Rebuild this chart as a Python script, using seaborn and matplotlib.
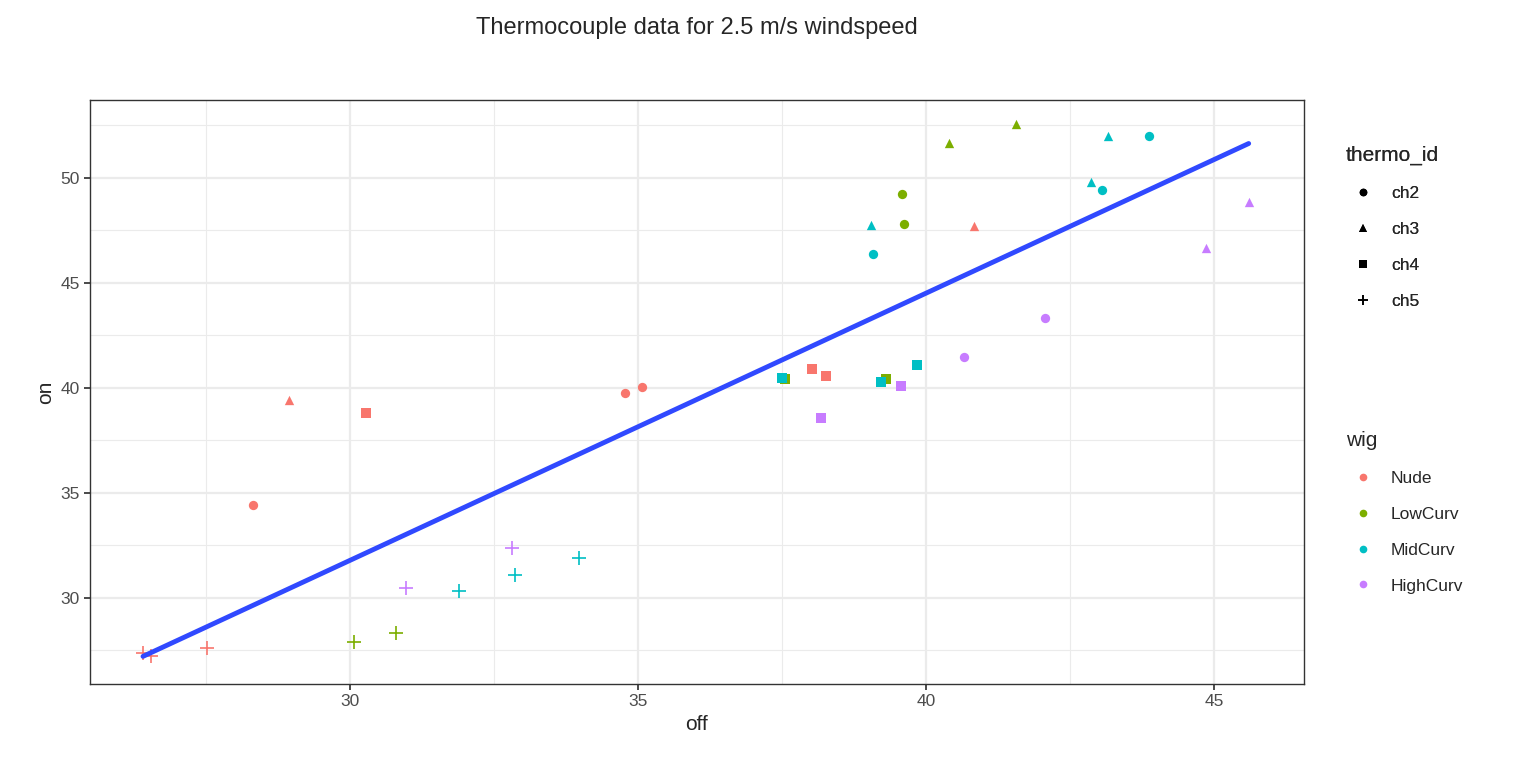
import matplotlib
matplotlib.use("Agg")
import matplotlib.pyplot as plt
from matplotlib.lines import Line2D
from matplotlib.ticker import MultipleLocator
import seaborn as sns
import pandas as pd

wig = (["Nude"]*11 + ["LowCurv"]*8 + ["MidCurv"]*12 + ["HighCurv"]*8)
thermo = (["ch2"]*3 + ["ch3"]*2 + ["ch4"]*3 + ["ch5"]*3 +
          ["ch2"]*2 + ["ch3"]*2 + ["ch4"]*2 + ["ch5"]*2 +
          ["ch2"]*3 + ["ch3"]*3 + ["ch4"]*3 + ["ch5"]*3 +
          ["ch2"]*2 + ["ch3"]*2 + ["ch4"]*2 + ["ch5"]*2)
off = [28.32, 34.77, 35.07, 28.94, 40.83, 30.28, 38.02, 38.26, 26.41, 26.55, 27.52,
       39.58, 39.62, 40.40, 41.56, 37.55, 39.31, 30.07, 30.80,
       43.05, 43.87, 39.08, 43.16, 42.87, 39.05, 37.50, 39.22, 39.84, 31.89, 32.86, 33.97,
       42.06, 40.66, 45.60, 44.86, 39.56, 38.18, 30.98, 32.82]
on = [34.43, 39.76, 40.05, 39.43, 47.71, 38.81, 40.90, 40.57, 27.38, 27.24, 27.62,
      49.24, 47.81, 51.67, 52.57, 40.43, 40.43, 27.90, 28.33,
      49.43, 52.00, 46.40, 52.00, 49.80, 47.76, 40.49, 40.29, 41.10, 30.33, 31.10, 31.92,
      43.33, 41.48, 48.87, 46.67, 40.11, 38.56, 30.49, 32.37]

df = pd.DataFrame({"off": off, "on": on, "wig": wig, "thermo_id": thermo})
wig_order = ["Nude", "LowCurv", "MidCurv", "HighCurv"]
th_order = ["ch2", "ch3", "ch4", "ch5"]
palette = dict(zip(wig_order, ["#F8766D", "#7CAE00", "#00BFC4", "#C77CFF"]))
markers = dict(zip(th_order, ["o", "^", "s", "+"]))

sns.set_theme(style="white")
plt.rcParams['font.family'] = ['Liberation Sans', 'DejaVu Sans']
fig = plt.figure(figsize=(15.36, 7.68), dpi=100)
ax = fig.add_axes([90/1536, 1-684/768, (1304-90)/1536, (684-100)/768])

for (w, t), sub in df.groupby(["wig", "thermo_id"]):
    m = markers[t]
    kw = dict(s=110 if m == "+" else 45, linewidth=1.2 if m == "+" else 0)
    sns.scatterplot(data=sub, x="off", y="on", color=palette[w], marker=m, ax=ax,
                    legend=False, zorder=3, **kw)
sns.regplot(data=df, x="off", y="on", scatter=False, ci=None, truncate=True,
            line_kws=dict(color="#3049FF", lw=3.5, zorder=4), ax=ax)

ax.set_xlim(25.49, 46.56)
ax.set_ylim(25.9, 53.71)
ax.xaxis.set_major_locator(MultipleLocator(5))
ax.yaxis.set_major_locator(MultipleLocator(5))
ax.xaxis.set_minor_locator(MultipleLocator(2.5))
ax.yaxis.set_minor_locator(MultipleLocator(2.5))
ax.grid(which="major", color="#EBEBEB", lw=1.6)
ax.grid(which="minor", color="#EBEBEB", lw=0.8)
ax.set_axisbelow(True)
for s in ax.spines.values():
    s.set_color("#333333"); s.set_linewidth(1)
ax.tick_params(which="major", length=4, color="#333333", labelsize=12.5, labelcolor="#4D4D4D", left=True, bottom=True)
ax.tick_params(which="minor", length=0)
ax.set_xlabel("off", fontsize=15)
ax.set_ylabel("on", fontsize=15)
fig.text(697/1536, 1-28/768, "Thermocouple data for 2.5 m/s windspeed", ha="center", va="center", fontsize=17)

h1 = [Line2D([], [], ls="", marker=markers[t], color="black", markersize=7 if markers[t] == "+" else 5.5,
             markeredgewidth=1.2 if markers[t] == "+" else 0) for t in th_order]
leg1 = fig.legend(h1, th_order, title="thermo_id", loc="upper left", bbox_to_anchor=(1330/1536, 1-130/768),
                  frameon=False, fontsize=12.5, title_fontsize=15, labelspacing=1.2, handletextpad=0.6, alignment="left")
fig.add_artist(leg1)
h2 = [Line2D([], [], ls="", marker="o", color=palette[w], markersize=5.5, markeredgewidth=0) for w in wig_order]
fig.legend(h2, wig_order, title="wig", loc="upper left", bbox_to_anchor=(1330/1536, 1-415/768),
           frameon=False, fontsize=12.5, title_fontsize=15, labelspacing=1.2, handletextpad=0.6, alignment="left")

fig.savefig("out.png", dpi=100)
